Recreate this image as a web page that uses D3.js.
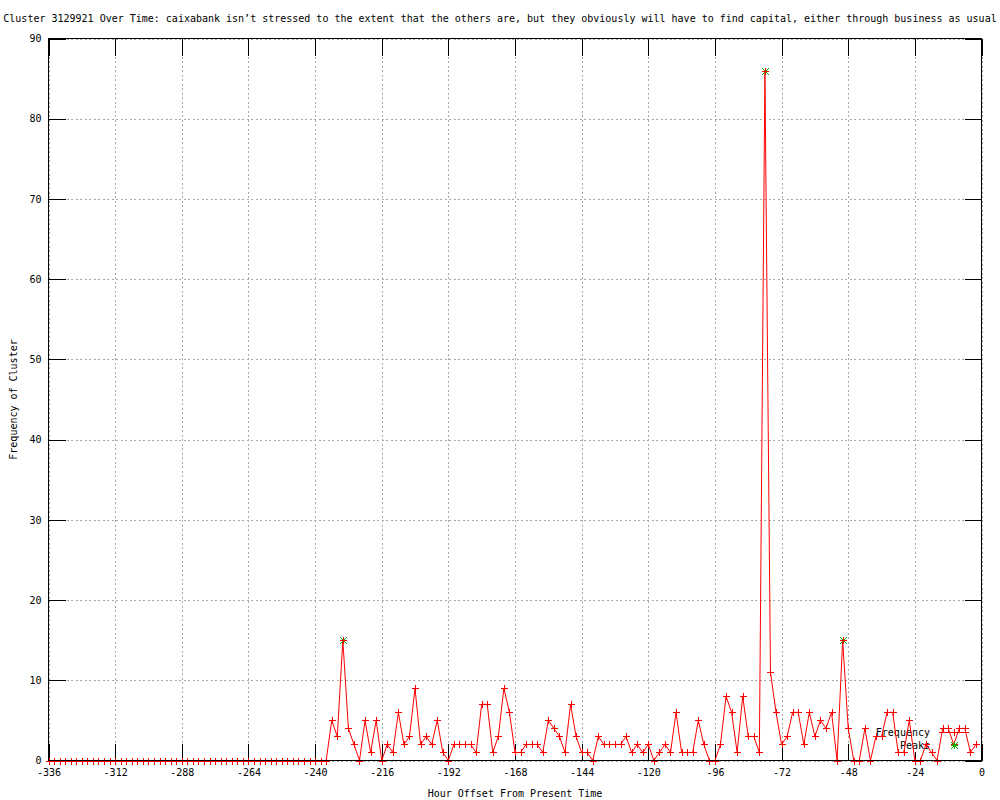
<!DOCTYPE html>
<html>
<head>
<meta charset="utf-8">
<script src="https://cdn.jsdelivr.net/npm/d3@7"></script>
<style>
  body { margin: 0; background: #fff; }
  svg { display: block; }
  text { font-family: "DejaVu Sans Mono", monospace; font-size: 10px; fill: #000; }
</style>
</head>
<body>
<svg id="chart" width="1000" height="800"></svg>
<script>
// ---- data ----
const titleText = "Cluster 3129921 Over Time: caixabank isn\u2019t stressed to the extent that the others are, but they obviously will have to find capital, either through business as usual";
const xLabel = "Hour Offset From Present Time";
const yLabel = "Frequency of Cluster";

const hours = [
  -336,-334,-332,-330,-328,-326,-324,-322,-320,-318,-316,-314,-312,-310,-308,-306,-304,-302,-300,-298,-296,-294,-292,-290,-288,-286,
  -284,-282,-280,-278,-276,-274,-272,-270,-268,-266,-264,-262,-260,-258,-256,-254,-252,-250,-248,-246,-244,-242,-240,-238,-236,
  -234,-232,-230,-228,-226,-224,-222,-220,-218,-216,-214,-212,-210,-208,-206,-204,-202,-200,-198,-196,-194,-192,
  -190,-188,-186,-184,-182,-180,-178,-176,-174,-172,-170,-168,-166,-164,-162,-160,-158,-156,-154,-152,-150,-148,-146,
  -144,-142,-140,-138,-136,-134,-132,-130,-128,-126,-124,-122,-120,-118,-116,-114,-112,-110,-108,-106,-104,-102,-100,-98,
  -96,-94,-92,-90,-88,-86,-84,-82,-80,-78,-76,-74,-72,-70,-68,-66,-64,-62,-60,-58,-56,-54,-52,
  -50,-48,-46,-44,-42,-40,-38,-36,-34,-32,-30,-28,-26,-24,-22,-20,-18,-16,-14,-12,-10,-8,-6,-4,-2
];
const frequency = [
  0,0,0,0,0,0,0,0,0,0,0,0,0,0,0,0,0,0,0,0,0,0,0,0,0,0,
  0,0,0,0,0,0,0,0,0,0,0,0,0,0,0,0,0,0,0,0,0,0,0,0,0,
  5,3,15,4,2,0,5,1,5,0,2,1,6,2,3,9,2,3,2,5,1,0,
  2,2,2,2,1,7,7,1,3,9,6,1,1,2,2,2,1,5,4,3,1,7,3,
  1,1,0,3,2,2,2,2,3,1,2,1,2,0,1,2,1,6,1,1,1,5,2,0,
  0,2,8,6,1,8,3,3,1,86,11,6,2,3,6,6,2,6,3,5,4,6,0,
  15,4,0,0,4,0,3,3,6,6,1,1,5,0,0,2,1,0,4,4,2,4,4,1,2
];
const peakHours = [-230, -78, -50];
const peakValues = [15, 86, 15];

const xTicks = [-336,-312,-288,-264,-240,-216,-192,-168,-144,-120,-96,-72,-48,-24,0];
const yTicks = [0,10,20,30,40,50,60,70,80,90];
const legendLabels = ["Frequency", "Peaks"];

// ---- drawing ----
const svg = d3.select("#chart");
const L = 48.5, R = 981.5, T = 38.5, B = 760.5;
const x = d3.scaleLinear().domain([-336, 0]).range([L, R]);
const y = d3.scaleLinear().domain([0, 90]).range([B, T]);
const TICK = 17;

svg.append("rect").attr("width", 1000).attr("height", 800).attr("fill", "#fff");

// title
svg.append("text").attr("x", 500).attr("y", 22).attr("text-anchor", "middle").text(titleText);

// grid
const grid = svg.append("g").attr("stroke", "#a8a8a8").attr("stroke-width", 1)
  .attr("stroke-dasharray", "2,2.5").attr("shape-rendering", "crispEdges");
grid.selectAll("line.gx").data(xTicks).join("line")
  .attr("x1", d => Math.round(x(d)) + 0.5).attr("x2", d => Math.round(x(d)) + 0.5)
  .attr("y1", T).attr("y2", B);
grid.selectAll("line.gy").data(yTicks).join("line")
  .attr("y1", d => Math.round(y(d)) + 0.5).attr("y2", d => Math.round(y(d)) + 0.5)
  .attr("x1", L).attr("x2", R);

// axes (ticks inward, mirrored)
function styleAxis(g) {
  g.select(".domain").remove();
  g.selectAll(".tick line").attr("stroke", "#000").attr("shape-rendering", "crispEdges");
  g.selectAll(".tick text").style("font-family", "'DejaVu Sans Mono', monospace").style("font-size", "10px").attr("fill", "#000");
}
svg.append("g").attr("transform", `translate(0,${B})`)
  .call(d3.axisBottom(x).tickValues(xTicks).tickSize(-TICK).tickPadding(8).tickFormat(d => String(d)))
  .call(styleAxis);
svg.append("g").attr("transform", `translate(0,${T})`)
  .call(d3.axisTop(x).tickValues(xTicks).tickSize(-TICK).tickFormat(""))
  .call(styleAxis);
svg.append("g").attr("transform", `translate(${L},0)`)
  .call(d3.axisLeft(y).tickValues(yTicks).tickSize(-TICK).tickPadding(7).tickFormat(d => String(d)))
  .call(styleAxis);
svg.append("g").attr("transform", `translate(${R},0)`)
  .call(d3.axisRight(y).tickValues(yTicks).tickSize(-TICK).tickFormat(""))
  .call(styleAxis);

// axis titles
svg.append("text").attr("x", (L + R) / 2).attr("y", 797).attr("text-anchor", "middle").text(xLabel);
svg.append("text").attr("transform", `translate(17,${(T + B) / 2}) rotate(-90)`)
  .attr("text-anchor", "middle").text(yLabel);

// legend box + text
const legX = 930, legY = [736, 749];
svg.append("rect").attr("x", 872).attr("y", 727).attr("width", 62).attr("height", 25).attr("fill", "#fff");
svg.selectAll("text.leg").data(legendLabels).join("text")
  .attr("class", "leg").attr("x", legX).attr("y", (d, i) => legY[i]).attr("text-anchor", "end").text(d => d);

// data
const pts = hours.map((h, i) => [h, frequency[i]]);
const line = d3.line().x(d => x(d[0])).y(d => y(d[1]));
const dataG = svg.append("g");
dataG.append("path").datum(pts).attr("d", line).attr("fill", "none")
  .attr("stroke", "#ff0000").attr("stroke-width", 1);

const S = 3.5;
function plusPath(cx, cy) {
  return `M${cx - S},${cy}H${cx + S}M${cx},${cy - S}V${cy + S}`;
}
function crossPath(cx, cy) {
  return `M${cx - S},${cy - S}L${cx + S},${cy + S}M${cx - S},${cy + S}L${cx + S},${cy - S}`;
}
// peaks (green star)
const peaks = peakHours.map((h, i) => [h, peakValues[i]]);
dataG.selectAll("path.pk").data(peaks).join("path").attr("class", "pk")
  .attr("d", d => crossPath(Math.round(x(d[0])) + 0.5, Math.round(y(d[1])) + 0.5) + plusPath(Math.round(x(d[0])) + 0.5, Math.round(y(d[1])) + 0.5))
  .attr("stroke", "#00b000").attr("stroke-width", 1).attr("fill", "none");
// frequency points (+)
dataG.selectAll("path.pt").data(pts).join("path").attr("class", "pt")
  .attr("d", d => plusPath(Math.round(x(d[0])) + 0.5, Math.round(y(d[1])) + 0.5))
  .attr("stroke", "#ff0000").attr("stroke-width", 1).attr("fill", "none")
  .attr("shape-rendering", "crispEdges");

// legend samples
const sx1 = 939, sx2 = 969, scx = 954.5;
svg.append("line").attr("x1", sx1).attr("x2", sx2).attr("y1", 732.5).attr("y2", 732.5)
  .attr("stroke", "#ff0000").attr("shape-rendering", "crispEdges");
svg.append("path").attr("d", plusPath(scx, 732.5)).attr("stroke", "#ff0000").attr("fill", "none")
  .attr("shape-rendering", "crispEdges");
svg.append("path").attr("d", crossPath(scx, 745.5) + plusPath(scx, 745.5)).attr("stroke", "#00b000").attr("fill", "none");

// border on top
svg.append("rect").attr("x", L).attr("y", T).attr("width", R - L).attr("height", B - T)
  .attr("fill", "none").attr("stroke", "#000").attr("stroke-width", 1).attr("shape-rendering", "crispEdges");
</script>
</body>
</html>
